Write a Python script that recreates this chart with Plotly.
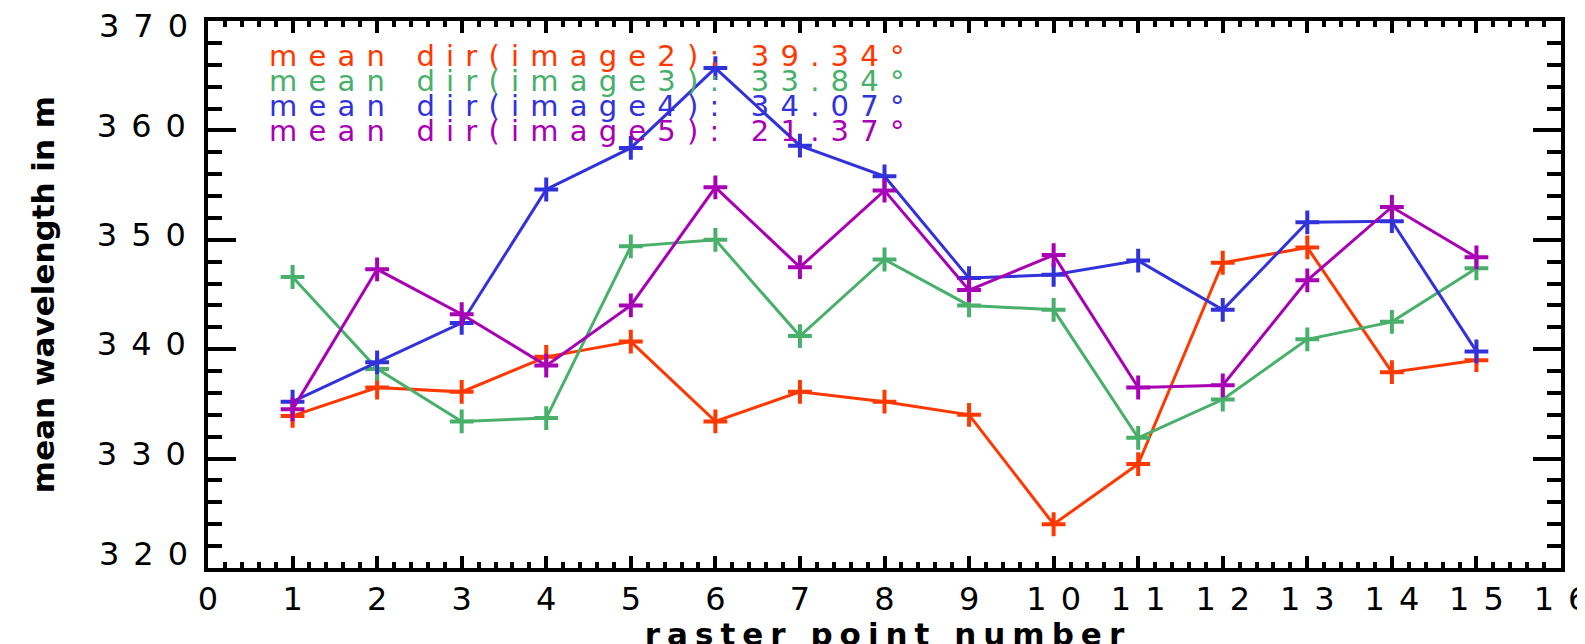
import plotly.graph_objects as go

# ---------------- data ----------------
raster_points = list(range(1, 16))

image2_wavelength = [333.9, 336.5, 336.1, 339.3, 340.7, 333.4, 336.1, 335.2, 334.0, 324.0,
                     329.5, 347.9, 349.3, 337.9, 339.0]
image3_wavelength = [346.6, 338.2, 333.4, 333.7, 349.4, 350.0, 341.2, 348.2, 344.0, 343.6,
                     331.9, 335.4, 340.9, 342.5, 347.4]
image4_wavelength = [335.2, 338.8, 342.4, 354.6, 358.4, 365.7, 358.6, 355.8, 346.5, 346.8,
                     348.1, 343.6, 351.6, 351.7, 339.8]
image5_wavelength = [334.5, 347.3, 343.2, 338.5, 344.0, 354.8, 347.5, 354.5, 345.4, 348.6,
                     336.5, 336.7, 346.3, 353.0, 348.4]

series_names = ["image2", "image3", "image4", "image5"]
mean_dirs = [39.34, 33.84, 34.07, 21.37]

x_tick_values = list(range(0, 17))
x_tick_labels = [str(v) for v in x_tick_values]
y_tick_values = [320, 330, 340, 350, 360, 370]
y_tick_labels = ["320", "330", "340", "350", "360", "370"]

x_title = "raster point number"
y_title = "mean wavelength in m"

# ---------------- styling ----------------
W, H = 1585, 644
L, R, T, B = 200, 1553, 13, 560  # plot area in pixels
colors = ["#ff3800", "#48b06a", "#3232dc", "#a800b4"]
FONT = "DejaVu Sans"
Y_RANGE = [y_tick_values[0], y_tick_values[-1]]
# all y axes share the same range; two overlay axes carry the end labels
trace_axes = ["y", "y", "y2", "y3"]


def spaced(s, px):
    """Widen text with letter spacing (no trailing space after last char)."""
    if len(s) <= 1:
        return s
    return f'<span style="letter-spacing:{px}px">{s[:-1]}</span>{s[-1]}'


def paper_y(py):
    return 1 - (py - T) / (B - T)


series = [image2_wavelength, image3_wavelength, image4_wavelength, image5_wavelength]

fig = go.Figure()
for name, vals, col, ya in zip(series_names, series, colors, trace_axes):
    fig.add_trace(go.Scatter(
        x=raster_points, y=vals, name=name, mode="lines+markers", yaxis=ya,
        line=dict(color=col, width=3),
        marker=dict(symbol="cross-thin", size=17, line=dict(color=col, width=4)),
        showlegend=False,
    ))

# text block in upper left
centers = [48, 73, 98, 123]
for name, md, col, cy in zip(series_names, mean_dirs, colors, centers):
    txt = f"mean dir({name}): {md:.2f}°"
    fig.add_annotation(
        x=0.70, xref="x", xanchor="left",
        y=paper_y(cy), yref="paper", yanchor="middle",
        text=spaced(txt, 11.2), showarrow=False,
        font=dict(family=FONT, size=29, color=col),
    )

tick_font = dict(family=FONT, size=32, color="black")
axis_common = dict(
    showline=True, linecolor="black", linewidth=3.5,
    mirror="ticks", ticks="inside", tickcolor="black", tickwidth=3.5,
    showgrid=False, zeroline=False, ticklabeloverflow="allow", automargin=False,
    tickfont=tick_font,
)

fig.update_xaxes(
    range=[0, 16], tickmode="array", tickvals=x_tick_values,
    ticktext=[spaced(t, 14) for t in x_tick_labels],
    ticklen=12, ticklabelstandoff=0,
    minor=dict(dtick=0.2, ticklen=6, ticks="inside", tickcolor="black", tickwidth=3.5, showgrid=False),
    title=dict(text=spaced(x_title, 7), font=dict(family=FONT, size=31, color="black", weight="bold"),
               standoff=0),
    **axis_common,
)

# main y axis: all ticks, labels for the inner values; end labels are drawn by
# two overlay axes so that they sit inside the frame like in the original
inner_text = [spaced(t, 14) if 0 < i < len(y_tick_labels) - 1 else ""
              for i, t in enumerate(y_tick_labels)]
fig.update_layout(yaxis=dict(
    range=Y_RANGE, tickmode="array", tickvals=y_tick_values, ticktext=inner_text,
    ticklen=28, ticklabelstandoff=12, ticklabelshift=-5,
    minor=dict(dtick=2, ticklen=14, ticks="inside", tickcolor="black", tickwidth=3.5, showgrid=False),
    title=dict(text=y_title, font=dict(family=FONT, size=31, color="black", weight="bold"),
               standoff=34),
    **axis_common,
))

end_common = dict(
    overlaying="y", anchor="x", side="left", range=Y_RANGE, tickmode="array",
    ticks="", showline=False, showgrid=False, zeroline=False, automargin=False,
    ticklabeloverflow="allow", ticklabelstandoff=19, tickfont=tick_font,
)
fig.update_layout(
    yaxis2=dict(tickvals=[y_tick_values[-1]], ticktext=[spaced(y_tick_labels[-1], 14)],
                ticklabelshift=5, **end_common),
    yaxis3=dict(tickvals=[y_tick_values[0]], ticktext=[spaced(y_tick_labels[0], 14)],
                ticklabelshift=-14, **end_common),
)

fig.update_layout(
    width=W, height=H,
    margin=dict(l=L, r=W - R, t=T, b=H - B, pad=0, autoexpand=False),
    paper_bgcolor="white", plot_bgcolor="white",
    font=dict(family=FONT),
)

fig.write_html("out.html")
